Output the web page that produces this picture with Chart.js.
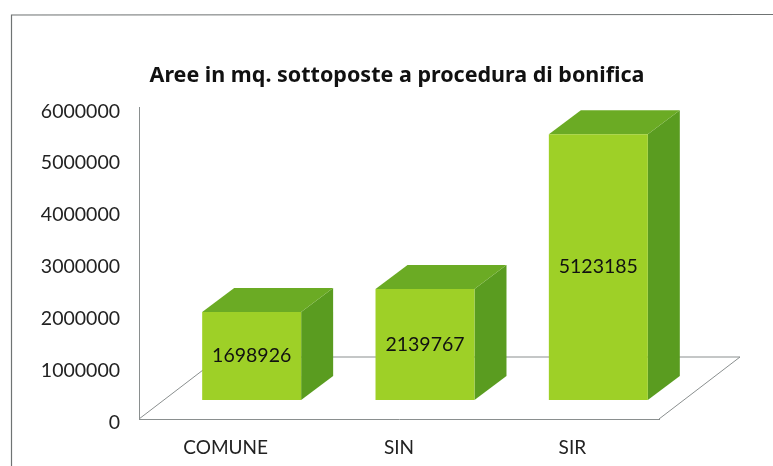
<!DOCTYPE html>
<html>
<head>
<meta charset="utf-8">
<style>
  html, body { margin: 0; padding: 0; background: #fff; overflow: hidden; }
  canvas { display: block; }
</style>
<script src="https://cdn.jsdelivr.net/npm/chart.js@4"></script>
</head>
<body>
<canvas id="chart" width="773" height="466"></canvas>
<script>
const categories = ["COMUNE", "SIN", "SIR"];
const areaValues = [1698926, 2139767, 5123185];
const chartTitle = "Aree in mq. sottoposte a procedura di bonifica";

const FONT = "Lato, Carlito, sans-serif";
const BAR_SHIFT_X = 26, BAR_SHIFT_Y = -19;   // front face sits inside the 3d floor
const DEPTH_X = 32, DEPTH_Y = 24;            // bar depth
const FLOOR_X = 81, FLOOR_Y = 62;            // floor depth
const LINE_COLOR = "#8a8f8f";

function fillPoly(ctx, color, pts) {
  ctx.fillStyle = color;
  ctx.beginPath();
  pts.forEach((p, i) => i ? ctx.lineTo(p[0], p[1]) : ctx.moveTo(p[0], p[1]));
  ctx.closePath();
  ctx.fill();
}

const box3d = {
  id: "box3d",
  afterLayout(chart) {
    // title is centred a little left of the plot
    chart.titleBlock.left -= 4;
  },
  beforeDatasetsDraw(chart) {
    const ctx = chart.ctx;
    const { left, right, bottom } = chart.chartArea;

    // outer frame, runs off the page on the right and at the bottom
    ctx.save();
    ctx.strokeStyle = "#6f7373";
    ctx.lineWidth = 1.2;
    ctx.beginPath();
    ctx.moveTo(11.5, 466);
    ctx.lineTo(11.5, 15);
    ctx.lineTo(773, 14.5);
    ctx.stroke();

    // floor
    ctx.strokeStyle = LINE_COLOR;
    ctx.lineWidth = 1;
    ctx.beginPath();
    ctx.moveTo(left, bottom);
    ctx.lineTo(left + FLOOR_X, bottom - FLOOR_Y);
    ctx.lineTo(right + FLOOR_X, bottom - FLOOR_Y);
    ctx.lineTo(right, bottom);
    ctx.stroke();

    // side and top of every bar
    chart.getDatasetMeta(0).data.forEach(bar => {
      const x0 = bar.x - bar.width / 2 + BAR_SHIFT_X;
      const x1 = bar.x + bar.width / 2 + BAR_SHIFT_X;
      const yt = bar.y + BAR_SHIFT_Y;
      const yb = bar.base + BAR_SHIFT_Y;
      fillPoly(ctx, "#5a9c20", [[x1, yt], [x1 + DEPTH_X, yt - DEPTH_Y], [x1 + DEPTH_X, yb - DEPTH_Y], [x1, yb]]);
      fillPoly(ctx, "#6bab24", [[x0, yt], [x0 + DEPTH_X, yt - DEPTH_Y], [x1 + DEPTH_X, yt - DEPTH_Y], [x1, yt]]);
    });
    ctx.restore();

    // front faces are the real bars, moved onto the floor
    ctx.save();
    ctx.translate(BAR_SHIFT_X, BAR_SHIFT_Y);
  },
  afterDatasetsDraw(chart) {
    const ctx = chart.ctx;
    ctx.restore();

    ctx.save();
    ctx.font = "19.5px " + FONT;
    ctx.fillStyle = "#111";
    ctx.textAlign = "center";
    ctx.textBaseline = "middle";
    chart.getDatasetMeta(0).data.forEach((bar, i) => {
      ctx.fillText(String(areaValues[i]), bar.x + BAR_SHIFT_X, (bar.y + bar.base) / 2 + BAR_SHIFT_Y);
    });
    ctx.restore();
  }
};

new Chart(document.getElementById("chart"), {
  type: "bar",
  plugins: [box3d],
  data: {
    labels: categories,
    datasets: [{
      data: areaValues,
      backgroundColor: "#9ed027",
      borderWidth: 0,
      barPercentage: 0.571,
      categoryPercentage: 1,
      clip: false
    }]
  },
  options: {
    responsive: false,
    animation: false,
    layout: { autoPadding: false, padding: { top: 63, right: 114, left: 0, bottom: 0 } },
    plugins: {
      legend: { display: false },
      tooltip: { enabled: false },
      title: {
        display: true,
        text: chartTitle,
        fullSize: false,
        color: "#111",
        font: { family: "'Noto Sans', " + FONT, size: 21.5, weight: "bold" },
        padding: { top: 0, bottom: 19 }
      }
    },
    scales: {
      x: {
        afterFit(scale) { scale.height = 47; },
        grid: { display: false },
        border: { color: LINE_COLOR, width: 1 },
        ticks: { color: "#222", font: { family: FONT, size: 19 }, padding: 9, maxRotation: 0 }
      },
      y: {
        min: 0,
        max: 6000000,
        afterFit(scale) { scale.width = 139; },
        grid: { display: false },
        border: { color: LINE_COLOR, width: 1 },
        ticks: {
          stepSize: 1000000,
          color: "#222",
          font: { family: FONT, size: 19.5 },
          padding: 11,
          labelOffset: 3.5,
          callback: v => String(v)
        }
      }
    }
  }
});
</script>
</body>
</html>
